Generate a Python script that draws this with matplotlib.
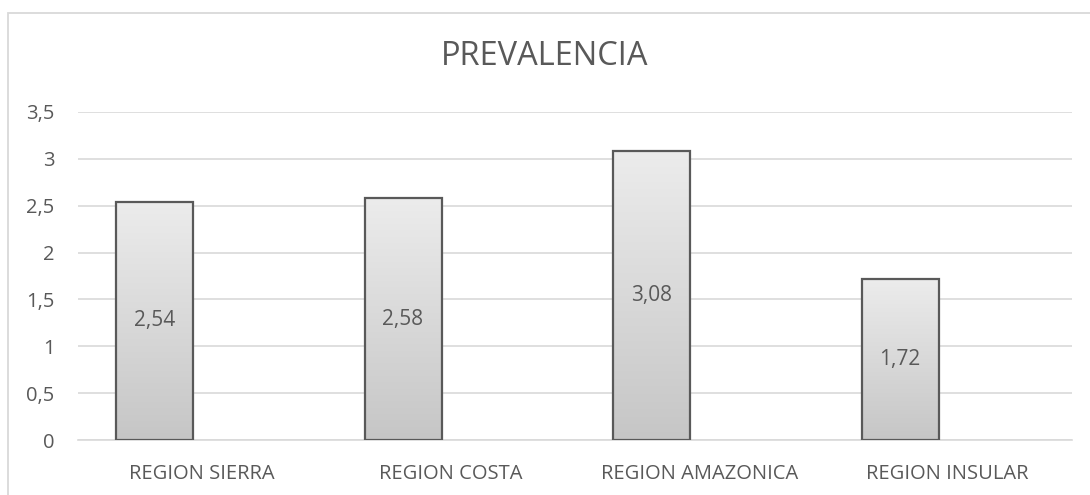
import numpy as np
import matplotlib
matplotlib.use("Agg")
import matplotlib.pyplot as plt
import matplotlib.patches as patches
from matplotlib.ticker import FuncFormatter, MultipleLocator

regions = ["REGION SIERRA", "REGION COSTA", "REGION AMAZONICA", "REGION INSULAR"]
prevalence = [2.54, 2.58, 3.08, 1.72]

plt.rcParams['font.family'] = ['Open Sans', 'DejaVu Sans']
txt = '#595959'

fig = plt.figure(figsize=(10.9, 4.95), dpi=100)
ax = fig.add_axes([78 / 1090, 1 - 440 / 495, (1072 - 78) / 1090, (440 - 112) / 495])

# outer chart frame (only left and top edges fall inside the image)
fig.patches.append(patches.Rectangle((8 / 1090, -0.05), 1.0, 1.05 - 13 / 495,
                                     transform=fig.transFigure, fill=False,
                                     edgecolor='#d9d9d9', linewidth=1.3))

x = np.arange(len(regions))
width = 0.31
left = x - 0.5 + 0.153
bars = ax.bar(left, prevalence, width=width, align='edge',
              color='none', edgecolor='#595959', linewidth=1.6, zorder=3)

# vertical gray gradient inside each bar
grad = np.linspace(0, 1, 256).reshape(-1, 1)
cmap = matplotlib.colors.LinearSegmentedColormap.from_list('g', ['#c6c6c6', '#ececec'])
for b in bars:
    x0, y0 = b.get_x(), b.get_y()
    w, h = b.get_width(), b.get_height()
    im = ax.imshow(grad, extent=[x0, x0 + w, y0, y0 + h], origin='lower',
                   cmap=cmap, aspect='auto', zorder=2)
    im.set_clip_path(b)
    ax.text(x0 + w / 2, y0 + h / 2, f"{h:.2f}".replace('.', ','),
            ha='center', va='center', fontsize=15, color=txt, zorder=4)

ax.set_xlim(-0.5, len(regions) - 0.5)
ax.set_ylim(0, 3.5)
ax.yaxis.set_major_locator(MultipleLocator(0.5))
ax.yaxis.set_major_formatter(FuncFormatter(lambda v, p: f"{v:g}".replace('.', ',')))
ax.set_xticks(x)
ax.set_xticklabels(regions)
ax.tick_params(axis='both', length=0, labelsize=14.5, labelcolor=txt)
ax.tick_params(axis='x', pad=17)
ax.tick_params(axis='y', pad=17)

ax.grid(axis='y', color='#d9d9d9', linewidth=1.2, zorder=0)
ax.set_axisbelow(True)
for s in ['top', 'right', 'left']:
    ax.spines[s].set_visible(False)
ax.spines['bottom'].set_color('#d9d9d9')
ax.spines['bottom'].set_linewidth(1.2)

fig.text(0.5, 1 - 56 / 495, "PREVALENCIA", ha='center', va='center',
         fontsize=23.5, color=txt)

fig.savefig("out.png", dpi=100)
